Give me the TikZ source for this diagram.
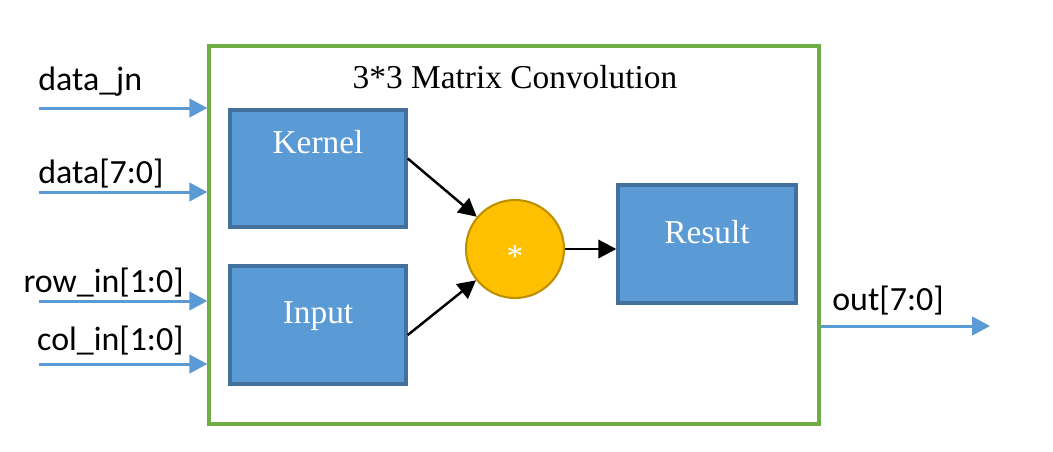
\documentclass[tikz,border=0pt]{standalone}
\usepackage{fontspec}
\setmainfont{Liberation Serif}
\newfontfamily\sigfont{Carlito}
\usetikzlibrary{arrows.meta}
\definecolor{boxblue}{HTML}{5B9BD5}
\definecolor{boxedge}{HTML}{41719C}
\definecolor{convgreen}{HTML}{70AD47}
\definecolor{multgold}{HTML}{FFC000}
\definecolor{multedge}{HTML}{BF9000}
\begin{document}
\begin{tikzpicture}[x=0.02cm, y=-0.02cm,
  blk/.style={rectangle, draw=boxedge, fill=boxblue, line width=2pt},
  boxtext/.style={text=white, font=\fontsize{19}{23}\selectfont, anchor=base, inner sep=0pt},
  sig/.style={draw=boxblue, line width=1.7pt, -{Triangle[length=0.36cm,width=0.37cm]}},
  sigtext/.style={font=\sigfont\fontsize{19.3}{23}\selectfont, inner sep=0pt},
  flow/.style={draw=black, line width=1.4pt, -{Triangle[length=0.36cm,width=0.37cm]}}]
\useasboundingbox (0,0) rectangle (1053,451);
\node[draw=convgreen, line width=2pt, minimum width=12.2cm, minimum height=7.56cm] (conv) at (514,235){};
\node[anchor=base, inner sep=0pt, font=\fontsize{19}{23}\selectfont] (title) at (515,88){3*3 Matrix Convolution};
\node[blk, minimum width=3.52cm, minimum height=2.34cm, label={[boxtext, yshift=-0.9cm]north:Kernel}] (kernel) at (318,168.5){};
\node[blk, minimum width=3.52cm, minimum height=2.36cm, label={[boxtext, yshift=-1.18cm]north:Input}] (input) at (318,325){};
\node[blk, minimum width=3.56cm, minimum height=2.36cm, label={[boxtext, yshift=-1.2cm]north:Result}] (result) at (707,244){};
\node[circle, draw=multedge, fill=multgold, line width=1.2pt, minimum size=1.96cm, label={[boxtext, yshift=-0.16cm]center:*}] (mult) at (515,249){};
\draw[flow]([yshift=0.2cm]kernel.east) -- (mult);
\draw[flow]([yshift=-0.2cm]input.east) -- (mult);
\draw[flow](mult) -- (mult -| result.west);
\coordinate (jn) at (39,108);
\coordinate (dat) at (39,192);
\coordinate (row) at (39,301);
\coordinate (col) at (39,364);
\coordinate (outend) at (990,326);
\draw[sig](jn) -- (jn -| conv.west);
\draw[sig](dat) -- (dat -| conv.west);
\draw[sig](row) -- (row -| conv.west);
\draw[sig](col) -- (col -| conv.west);
\draw[sig](outend -| conv.east) -- (outend);
\node[sigtext, anchor=base west] (jnlbl) at (38,90){data\_jn};
\node[sigtext, anchor=base west] (datlbl) at (38,183){data[7:0]};
\node[sigtext, anchor=base east] (rowlbl) at (184,292){row\_in[1:0]};
\node[sigtext, anchor=base east] (collbl) at (184,350){col\_in[1:0]};
\node[sigtext, anchor=base west] (outlbl) at (832,310){out[7:0]};
\end{tikzpicture}
\end{document}
